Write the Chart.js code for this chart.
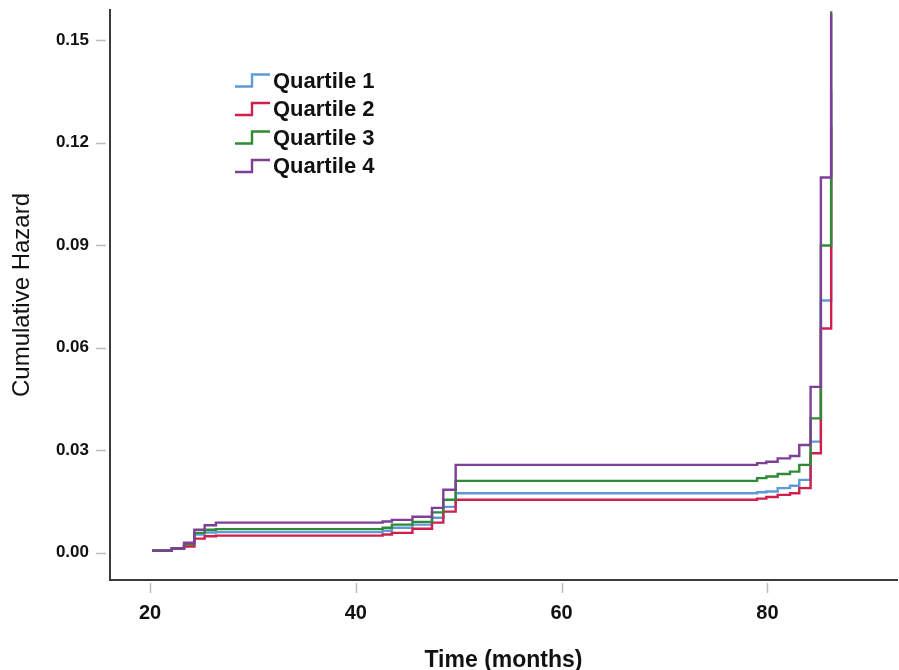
<!DOCTYPE html>
<html lang="en">
<head>
  <meta charset="UTF-8" />
  <title>Cumulative Hazard by Quartile</title>
  <script src="https://cdn.jsdelivr.net/npm/chart.js"></script>
  <style>
    html, body { margin: 0; padding: 0; background: #ffffff; }
    #wrap { width: 899px; height: 670px; }
  </style>
</head>
<body>
  <div id="wrap"><canvas id="grafico"></canvas></div>

  <script>
    // event times (months) shared by the four curves
    const times = [20.2, 22.1, 23.3, 24.3, 25.3, 26.4, 42.6, 43.5, 45.5, 47.4, 48.5, 49.7, 79.0, 79.9, 81.0, 82.2, 83.1, 84.2, 85.2, 86.2];

    // cumulative hazard after each event time
    const quartile1 = [0.0006, 0.0012, 0.0024, 0.0053, 0.0059, 0.0060, 0.0064, 0.0073, 0.0082, 0.0102, 0.0134, 0.0174, 0.0177, 0.0179, 0.0189, 0.0196, 0.0213, 0.0325, 0.0738, 0.1350];
    const quartile2 = [0.0006, 0.0012, 0.0018, 0.0041, 0.0048, 0.0050, 0.0053, 0.0058, 0.0070, 0.0088, 0.0120, 0.0155, 0.0158, 0.0163, 0.0169, 0.0174, 0.0189, 0.0291, 0.0656, 0.1250];
    const quartile3 = [0.0006, 0.0012, 0.0026, 0.0058, 0.0067, 0.0069, 0.0073, 0.0082, 0.0090, 0.0118, 0.0155, 0.0210, 0.0218, 0.0223, 0.0230, 0.0237, 0.0257, 0.0393, 0.0899, 0.1584];
    const quartile4 = [0.0006, 0.0012, 0.0029, 0.0067, 0.0080, 0.0088, 0.0091, 0.0096, 0.0105, 0.0131, 0.0184, 0.0257, 0.0262, 0.0266, 0.0276, 0.0283, 0.0315, 0.0485, 0.1098, 0.1577];

    const seriesNames = ['Quartile 1', 'Quartile 2', 'Quartile 3', 'Quartile 4'];
    const seriesValues = [quartile1, quartile2, quartile3, quartile4];
    const colors = ['#5e9ad8', '#d01f4c', '#2f8a36', '#7d3f97'];

    const xTicks = [20, 40, 60, 80];
    const yTicks = [0, 0.03, 0.06, 0.09, 0.12, 0.15];

    const FONT = "'Liberation Sans', Arial, sans-serif";

    // short grey tick marks, set a little off the axis lines (SPSS style)
    const tickMarks = {
      id: 'tickMarks',
      afterDraw(chart) {
        const ctx = chart.ctx, area = chart.chartArea;
        const sx = chart.scales.x, sy = chart.scales.y;
        ctx.save();
        ctx.strokeStyle = '#bdbdbd';
        ctx.lineWidth = 1.5;
        ctx.beginPath();
        yTicks.forEach(v => {
          const y = Math.round(sy.getPixelForValue(v)) + 0.5;
          ctx.moveTo(area.left - 14, y);
          ctx.lineTo(area.left - 4, y);
        });
        xTicks.forEach(v => {
          const x = Math.round(sx.getPixelForValue(v)) + 0.5;
          ctx.moveTo(x, area.bottom + 3);
          ctx.lineTo(x, area.bottom + 13);
        });
        ctx.stroke();
        ctx.restore();
      }
    };

    // legend with the little step glyph
    const stepLegend = {
      id: 'stepLegend',
      afterDraw(chart) {
        const ctx = chart.ctx;
        ctx.save();
        ctx.font = 'bold 22px ' + FONT;
        ctx.textBaseline = 'middle';
        chart.data.datasets.forEach((ds, i) => {
          const y = 80.5 + i * 28.5;
          ctx.strokeStyle = ds.borderColor;
          ctx.lineWidth = 2.4;
          ctx.beginPath();
          ctx.moveTo(235, y + 6);
          ctx.lineTo(252, y + 6);
          ctx.lineTo(252, y - 6);
          ctx.lineTo(270, y - 6);
          ctx.stroke();
          ctx.fillStyle = '#111';
          ctx.fillText(ds.label, 273, y + 1);
        });
        ctx.restore();
      }
    };

    new Chart(document.getElementById('grafico'), {
      type: 'line',
      data: {
        datasets: seriesNames.map((name, i) => ({
          label: name,
          data: times.map((t, j) => ({ x: t, y: seriesValues[i][j] })),
          borderColor: colors[i],
          borderWidth: 2.4,
          stepped: true,
          pointRadius: 0,
          fill: false,
          order: 3 - i
        }))
      },
      options: {
        responsive: true,
        maintainAspectRatio: false,
        animation: false,
        layout: { padding: { top: 10, right: 2, left: 0, bottom: 0 } },
        plugins: { legend: { display: false }, tooltip: { enabled: false } },
        scales: {
          x: {
            type: 'linear',
            min: 16.1,
            max: 92.6,
            afterFit: s => { s.height = 90; s.paddingLeft = 0; s.paddingRight = 0; },
            afterBuildTicks: s => { s.ticks = xTicks.map(v => ({ value: v })); },
            grid: { display: false, drawTicks: false },
            border: { display: true, color: '#3a3a3a', width: 2 },
            ticks: {
              padding: 21,
              color: '#111',
              font: { family: FONT, size: 20, weight: 'bold' },
              maxRotation: 0
            },
            title: {
              display: true,
              text: 'Time (months)',
              color: '#111',
              font: { family: FONT, size: 23, weight: 'bold', lineHeight: 0.85 },
              padding: { top: 0, bottom: 0 }
            }
          },
          y: {
            min: -0.0080,
            max: 0.1588,
            afterFit: s => { s.width = 110; s.paddingTop = 0; s.paddingBottom = 0; },
            afterBuildTicks: s => { s.ticks = yTicks.map(v => ({ value: v })); },
            grid: { display: false, drawTicks: false },
            border: { display: true, color: '#3a3a3a', width: 2 },
            ticks: {
              padding: 21,
              color: '#111',
              font: { family: FONT, size: 17, weight: 'bold' },
              callback: v => v.toFixed(2)
            },
            title: {
              display: true,
              text: 'Cumulative Hazard',
              color: '#111',
              font: { family: FONT, size: 24, lineHeight: 1 },
              padding: { top: 10, bottom: 0 }
            }
          }
        }
      },
      plugins: [tickMarks, stepLegend]
    });
  </script>
</body>
</html>
